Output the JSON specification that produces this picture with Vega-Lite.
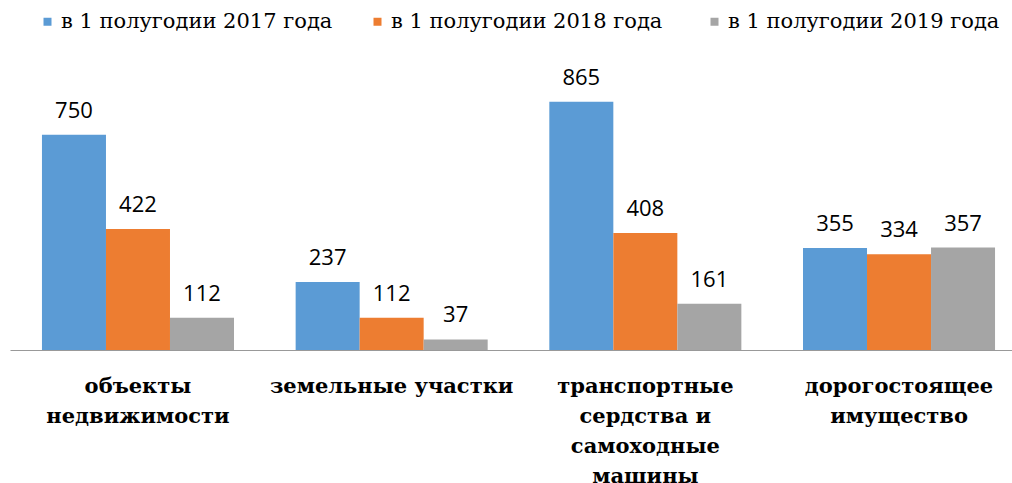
{
  "$schema": "https://vega.github.io/schema/vega-lite/v6.json",
  "width": 1017,
  "height": 287,
  "autosize": "none",
  "padding": {"left": 10, "top": 63, "right": 0, "bottom": 133},
  "background": "white",
  "config": {"view": {"stroke": null}},
  "data": {
    "values": [
      {"category": "объекты недвижимости", "series": "в 1 полугодии 2017 года", "value": 750},
      {"category": "объекты недвижимости", "series": "в 1 полугодии  2018 года", "value": 422},
      {"category": "объекты недвижимости", "series": "в 1 полугодии 2019 года", "value": 112},
      {"category": "земельные участки", "series": "в 1 полугодии 2017 года", "value": 237},
      {"category": "земельные участки", "series": "в 1 полугодии  2018 года", "value": 112},
      {"category": "земельные участки", "series": "в 1 полугодии 2019 года", "value": 37},
      {"category": "транспортные сердства и самоходные машины", "series": "в 1 полугодии 2017 года", "value": 865},
      {"category": "транспортные сердства и самоходные машины", "series": "в 1 полугодии  2018 года", "value": 408},
      {"category": "транспортные сердства и самоходные машины", "series": "в 1 полугодии 2019 года", "value": 161},
      {"category": "дорогостоящее имущество", "series": "в 1 полугодии 2017 года", "value": 355},
      {"category": "дорогостоящее имущество", "series": "в 1 полугодии  2018 года", "value": 334},
      {"category": "дорогостоящее имущество", "series": "в 1 полугодии 2019 года", "value": 357}
    ]
  },
  "encoding": {
    "x": {
      "field": "category",
      "type": "nominal",
      "sort": null,
      "scale": {"paddingInner": 0.243, "paddingOuter": 0.126},
      "axis": {
        "title": null,
        "ticks": false,
        "domainColor": "#999999",
        "domainWidth": 1.2,
        "labelAngle": 0,
        "labelFont": "DejaVu Serif",
        "labelFontWeight": "bold",
        "labelFontSize": 21,
        "labelColor": "#000000",
        "labelPadding": 25,
        "labelBaseline": "top",
        "labelLineHeight": 30,
        "labelLimit": 0,
        "labelExpr": "datum.label == 'объекты недвижимости' ? ['объекты', 'недвижимости'] : datum.label == 'транспортные сердства и самоходные машины' ? ['транспортные', 'сердства и', 'самоходные', 'машины'] : datum.label == 'дорогостоящее имущество' ? ['дорогостоящее', 'имущество'] : datum.label"
      }
    },
    "xOffset": {
      "field": "series",
      "type": "nominal",
      "scale": {"domain": ["в 1 полугодии 2017 года", "в 1 полугодии  2018 года", "в 1 полугодии 2019 года"], "paddingInner": 0, "paddingOuter": 0}
    },
    "y": {
      "field": "value",
      "type": "quantitative",
      "scale": {"domain": [0, 1000]},
      "axis": null
    }
  },
  "layer": [
    {
      "mark": {"type": "bar"},
      "encoding": {
        "color": {
          "field": "series",
          "type": "nominal",
          "scale": {
            "domain": ["в 1 полугодии 2017 года", "в 1 полугодии  2018 года", "в 1 полугодии 2019 года"],
            "range": ["#5b9bd5", "#ed7d31", "#a5a5a5"]
          },
          "legend": {
            "title": null,
            "orient": "none",
            "legendX": 27,
            "legendY": -52,
            "direction": "horizontal",
            "columns": 3,
            "columnPadding": 34,
            "symbolType": "square",
            "symbolSize": 64,
            "symbolStrokeWidth": 0,
            "labelFont": "DejaVu Serif",
            "labelFontSize": 21,
            "labelColor": "#000000",
            "labelOffset": 3,
            "labelLimit": 0
          }
        }
      }
    },
    {
      "mark": {"type": "text", "font": "Open Sans", "fontSize": 22, "color": "#000000", "baseline": "alphabetic", "dy": -17},
      "encoding": {
        "text": {"field": "value", "type": "quantitative"}
      }
    }
  ]
}
